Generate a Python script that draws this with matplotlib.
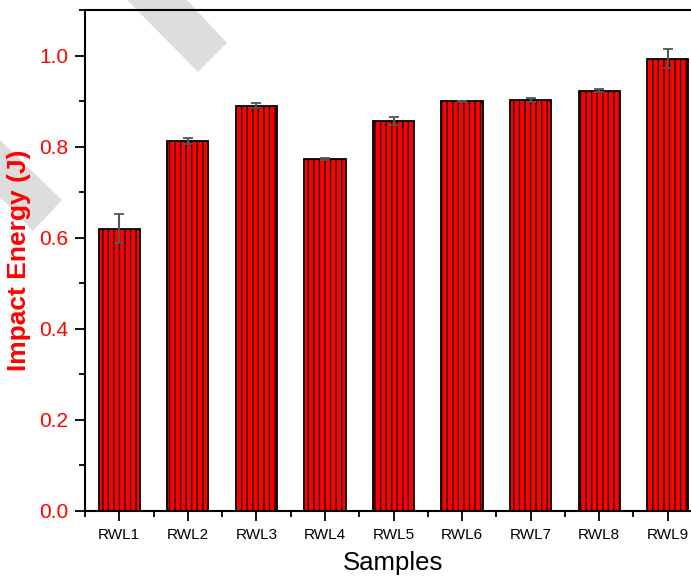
import matplotlib.pyplot as plt
from matplotlib.patches import Polygon
from matplotlib.ticker import MultipleLocator

plt.rcParams['font.family'] = ['Liberation Sans', 'DejaVu Sans']
plt.rcParams['hatch.color'] = 'black'
plt.rcParams['hatch.linewidth'] = 0.9

# data
samples = ["RWL1", "RWL2", "RWL3", "RWL4", "RWL5", "RWL6", "RWL7", "RWL8", "RWL9"]
energy = [0.620, 0.812, 0.890, 0.772, 0.856, 0.900, 0.902, 0.923, 0.993]
errors = [0.031, 0.007, 0.006, 0.002, 0.009, 0.001, 0.004, 0.004, 0.021]

W, H = 691, 582
fig = plt.figure(figsize=(W / 100, H / 100), dpi=100)

# light grey watermark pieces (pixel coords -> figure fraction)
def px(pts):
    return [(x / W, 1 - y / H) for x, y in pts]

for pts in ([(127, 0), (187, 0), (227, 43), (198, 72)],
            [(0, 140), (62, 200), (33, 231), (0, 197)]):
    fig.patches.append(Polygon(px(pts), closed=True, transform=fig.transFigure,
                               facecolor='#dddddd', edgecolor='none', zorder=-1))

# axes run past the right edge, like the cropped original
ax = fig.add_axes([85 / W, 71 / H, 617 / W, 501 / H])
ax.patch.set_alpha(0)

x = list(range(1, len(samples) + 1))
ax.bar(x, energy, width=0.6, color='#ff0000', edgecolor='black',
       linewidth=1.3, hatch='|||', zorder=2)

line, caps, bars = ax.errorbar(x, energy, yerr=errors, fmt='none', ecolor='#555555',
                               elinewidth=1.5, capsize=3.6, capthick=1.3, zorder=3)
for c in caps:
    c.set_color('black')

ax.set_xlim(0.5, 9.5)
ax.set_ylim(0, 1.1)
ax.set_xticks(x)
ax.set_xticklabels(samples)
ax.xaxis.set_minor_locator(MultipleLocator(0.5))
ax.yaxis.set_major_locator(MultipleLocator(0.2))
ax.yaxis.set_minor_locator(MultipleLocator(0.1))

ax.tick_params(axis='both', which='major', direction='out', length=7, width=1.3)
ax.tick_params(axis='both', which='minor', direction='out', length=4, width=1.3)
ax.tick_params(axis='y', which='major', labelsize=15, labelcolor='red', pad=5)
ax.tick_params(axis='x', which='major', labelsize=11, pad=5)

for s in ax.spines.values():
    s.set_linewidth(1.5)

ax.set_xlabel("Samples", fontsize=18.5, labelpad=7)
ax.set_ylabel("Impact Energy (J)", fontsize=19, fontweight='bold', color='red')
ax.yaxis.set_label_coords(-0.087, 0.5)

fig.savefig("out.png", dpi=100)
